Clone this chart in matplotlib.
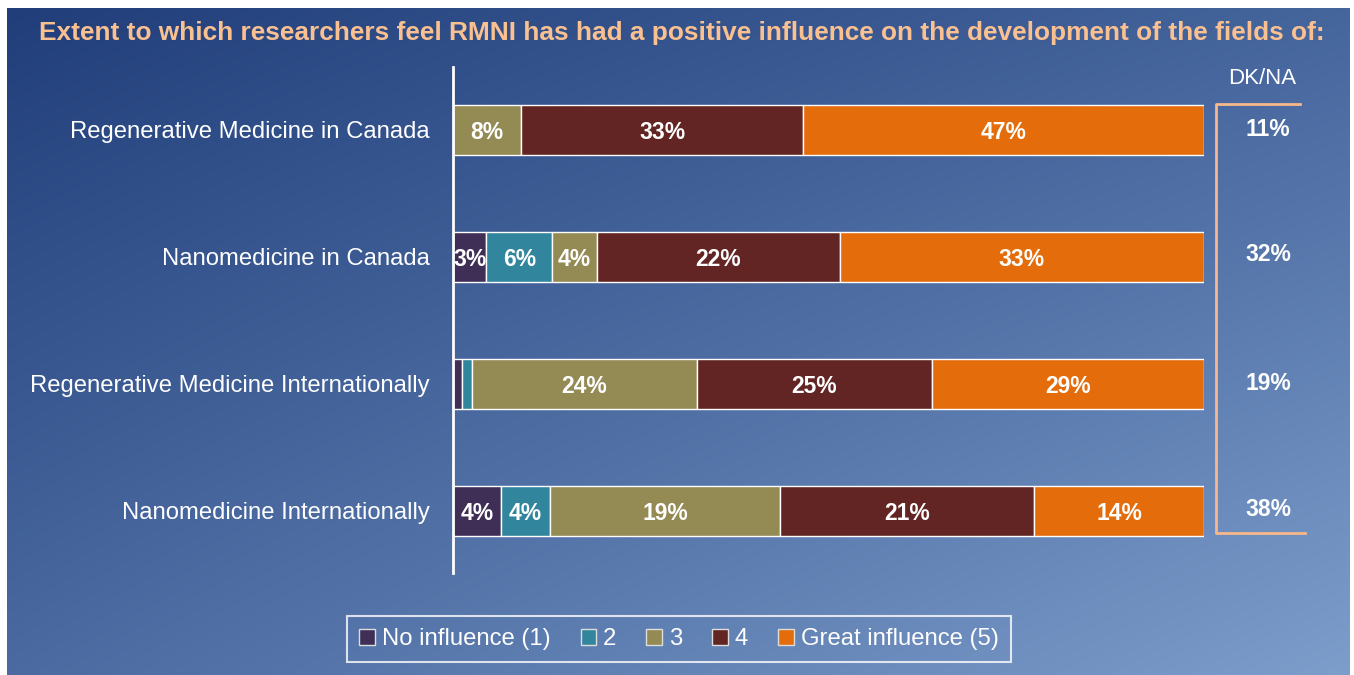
import numpy as np
import matplotlib
matplotlib.use("Agg")
import matplotlib.pyplot as plt
from matplotlib.patches import Patch
from matplotlib.colors import to_rgb

# Data (percent of respondents; DK/NA shown separately)
categories = [
    "Regenerative Medicine in Canada",
    "Nanomedicine in Canada",
    "Regenerative Medicine Internationally",
    "Nanomedicine Internationally",
]
series_names = ["No influence (1)", "2", "3", "4", "Great influence (5)"]
no_influence = [0, 3, 1, 4]
score_2 = [0, 6, 1, 4]
score_3 = [8, 4, 24, 19]
score_4 = [33, 22, 25, 21]
great_influence = [47, 33, 29, 14]
dk_na = [11, 32, 19, 38]

colors = ["#3f2f57", "#31859c", "#948a54", "#632523", "#e46c0a"]
title = "Extent to which researchers feel RMNI has had a positive influence on the development of the fields of:"

plt.rcParams["font.family"] = ["Liberation Sans", "DejaVu Sans"]

W, H = 1354, 675
fig = plt.figure(figsize=(W / 100, H / 100), dpi=100, facecolor="white")

# gradient background
bg = fig.add_axes([7 / W, 0, (1350 - 7) / W, (H - 8) / H])
tl, tr = np.array(to_rgb("#213e7a")), np.array(to_rgb("#45659d"))
bl, br = np.array(to_rgb("#4a6aa1")), np.array(to_rgb("#7d9ecb"))
u = np.linspace(0, 1, 300)[None, :, None]
v = np.linspace(0, 1, 150)[:, None, None]
grad = tl * (1 - u) * (1 - v) + tr * u * (1 - v) + bl * (1 - u) * v + br * u * v
bg.imshow(grad, aspect="auto", interpolation="bilinear", extent=[0, 1, 0, 1])
bg.axis("off")

# main bar axes
ax = fig.add_axes([453 / W, (H - 573) / H, 751 / W, 506 / H])
ax.set_facecolor("none")
ax.patch.set_alpha(0)

data = np.array([no_influence, score_2, score_3, score_4, great_influence], dtype=float)
totals = data.sum(axis=0)
shares = data / totals * 100
y = np.arange(len(categories))
left = np.zeros(len(categories))
for i in range(len(series_names)):
    ax.barh(y, shares[i], left=left, height=0.395, color=colors[i],
            edgecolor="white", linewidth=1.0, label=series_names[i])
    for j in range(len(categories)):
        if data[i, j] >= 2:
            ax.text(left[j] + shares[i, j] / 2, y[j] + 0.02, f"{int(data[i, j])}%",
                    ha="center", va="center", color="white",
                    fontsize=16.5, fontweight="bold")
    left += shares[i]

ax.set_xlim(0, 100)
ax.set_ylim(3.49, -0.496)
ax.set_xticks([])
ax.set_yticks(y)
ax.set_yticklabels(categories, color="white", fontsize=17.2)
ax.tick_params(axis="y", length=0, pad=17)
for s in ["top", "right", "bottom"]:
    ax.spines[s].set_visible(False)
ax.spines["left"].set_color("white")
ax.spines["left"].set_linewidth(2)

# DK/NA column
def fy(py):
    return (H - py) / H

def fx(px):
    return px / W

fig.text(fx(1262), fy(78), "DK/NA", color="white", fontsize=16, ha="center", va="center")
dk_y = [129, 254, 384, 510]
for val, py in zip(dk_na, dk_y):
    fig.text(fx(1268), fy(py), f"{val}%", color="white", fontsize=16.5,
             fontweight="bold", ha="center", va="center")
bracket = "#f8b88a"
fig.add_artist(plt.Line2D([fx(1300), fx(1216), fx(1216), fx(1305)],
                          [fy(104), fy(104), fy(533), fy(533)],
                          color=bracket, linewidth=2))

# title
fig.text(fx(682), fy(33), title, color="#fac090", fontsize=18.9,
         fontweight="bold", ha="center", va="center")

# legend
handles = [Patch(facecolor=c, edgecolor="#dddddd", linewidth=1) for c in colors]
leg = fig.legend(handles, series_names, loc="center", bbox_to_anchor=(fx(679), fy(639)),
                 ncol=5, frameon=True, fontsize=17.2, handlelength=0.65, handleheight=0.65,
                 handletextpad=0.3, columnspacing=1.25, labelcolor="white",
                 borderpad=0.5, fancybox=False)
leg.get_frame().set_facecolor("none")
leg.get_frame().set_edgecolor("white")
leg.get_frame().set_linewidth(1.5)

fig.savefig("out.png", dpi=100, facecolor="white")
